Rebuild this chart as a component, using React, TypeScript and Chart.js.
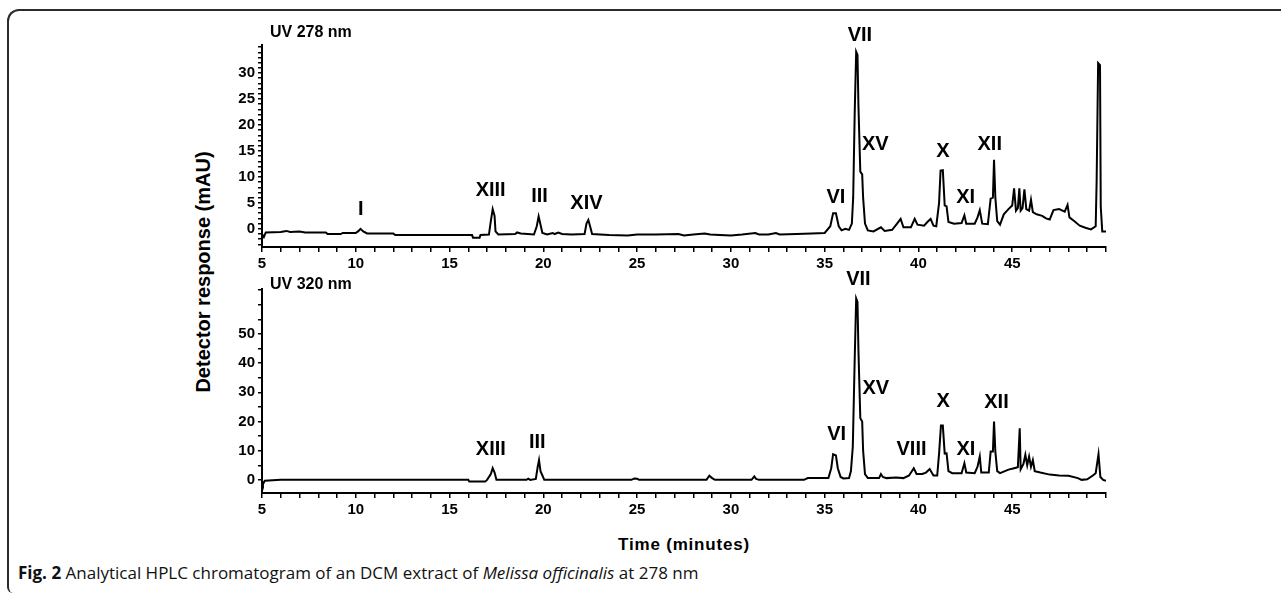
import React, { useEffect, useRef } from 'react';
import { Chart, registerables } from 'chart.js';

Chart.register(...registerables);

// ---- UV 278 nm trace (time in minutes, response in mAU) ----
const time278 = [
  5.0, 5.1, 5.2, 6.0, 6.3, 6.5, 7.0, 7.3, 8.4, 8.5, 9.2, 9.3, 10.0, 10.15, 10.25, 10.4, 10.6,
  12.0, 12.1, 13.0, 14.5, 16.2, 16.25, 16.6, 16.65, 17.1, 17.2, 17.3, 17.4, 17.45, 17.6,
  18.5, 18.6, 18.8, 19.5, 19.65, 19.75, 19.85, 19.95, 20.2, 20.5, 20.6, 20.8, 21.0, 21.5,
  22.2, 22.3, 22.4, 22.5, 22.6, 23.5, 24.5, 25.0, 26.0, 27.2, 27.5, 28.0, 28.6, 28.9, 29.4,
  30.0, 30.6, 31.3, 31.5, 32.0, 32.4, 32.6, 33.5, 34.3, 35.0, 35.3, 35.45, 35.6, 35.75, 35.9,
  36.1, 36.3, 36.45, 36.52, 36.6, 36.68, 36.75, 36.8, 36.9, 37.0, 37.05, 37.15, 37.3, 37.6,
  38.0, 38.2, 38.6, 38.9, 39.05, 39.2, 39.6, 39.8, 39.95, 40.3, 40.5, 40.65, 40.8, 40.95,
  41.1, 41.18, 41.3, 41.4, 41.5, 41.6, 41.9, 42.3, 42.45, 42.55, 43.0, 43.15, 43.27, 43.4,
  43.7, 43.85, 43.97, 44.03, 44.1, 44.2, 44.35, 44.55, 44.8, 45.0, 45.1, 45.2, 45.3, 45.38,
  45.45, 45.55, 45.65, 45.75, 45.9, 46.0, 46.1, 46.3, 46.6, 46.8, 47.0, 47.2, 47.5, 47.8,
  47.95, 48.05, 48.3, 48.6, 48.9, 49.2, 49.45, 49.5, 49.58, 49.68, 49.72, 49.8, 50.0,
];
const response278 = [
  -1.0, -1.6, -0.7, -0.6, -0.4, -0.6, -0.5, -0.7, -0.7, -1.0, -1.0, -0.8, -0.8, -0.4, 0.0, -0.5, -0.9,
  -0.9, -1.2, -1.2, -1.2, -1.2, -1.7, -1.7, -1.2, -1.1, 1.5, 3.8, 2.5, -0.5, -1.1,
  -1.0, -0.7, -0.9, -1.1, 0.5, 2.4, 0.8, -0.8, -1.1, -0.8, -1.0, -0.7, -1.0, -1.1,
  -1.0, 1.0, 1.7, 0.4, -1.0, -1.2, -1.3, -1.1, -1.1, -1.0, -1.3, -1.1, -0.9, -1.1, -1.2,
  -1.3, -1.1, -0.8, -1.1, -1.1, -0.8, -1.1, -1.0, -0.9, -0.8, 0.5, 3.0, 3.0, 0.5, -0.3,
  0.0, -0.2, 1.0, 6.0, 22.0, 34.1, 33.5, 23.8, 11.0, 10.5, 6.0, 1.0, -0.3, -0.5,
  0.3, -0.4, -0.2, 1.2, 1.9, 0.3, 0.3, 1.9, 0.8, 0.6, 1.4, 1.9, 0.6, 0.5,
  5.0, 11.2, 11.3, 4.5, 4.3, 1.3, 1.0, 1.1, 2.6, 1.0, 1.0, 2.2, 3.6, 1.0,
  0.9, 5.8, 6.0, 13.3, 6.0, 1.5, 0.8, 2.8, 3.8, 4.5, 7.8, 3.5, 4.0, 7.8,
  3.5, 4.0, 7.6, 3.8, 3.5, 5.6, 3.2, 2.8, 2.5, 2.0, 1.8, 3.6, 3.8, 3.3,
  4.6, 2.2, 1.5, 0.6, 0.2, -0.1, 0.5, 9.0, 31.9, 31.5, 4.3, -0.5, -0.5,
];

// ---- UV 320 nm trace ----
const time320 = [
  5.0, 5.05, 5.15, 6.0, 10.0, 15.0, 16.0, 16.05, 16.9, 17.0, 17.2, 17.3, 17.4, 17.5,
  19.1, 19.2, 19.3, 19.6, 19.7, 19.77, 19.85, 19.95, 20.05, 24.7, 24.85, 25.0, 25.1,
  28.7, 28.85, 29.0, 29.15, 31.1, 31.25, 31.35, 31.5, 33.9, 34.1, 34.5, 35.2, 35.35,
  35.45, 35.6, 35.7, 35.85, 36.0, 36.3, 36.4, 36.5, 36.6, 36.68, 36.75, 36.8, 36.9, 37.0,
  37.05, 37.15, 37.3, 37.9, 38.0, 38.1, 38.3, 38.8, 39.2, 39.5, 39.75, 39.9, 40.2, 40.4,
  40.6, 40.8, 41.0, 41.1, 41.2, 41.3, 41.4, 41.5, 41.6, 41.8, 42.3, 42.45, 42.55, 43.0,
  43.15, 43.27, 43.35, 43.75, 43.85, 43.97, 44.03, 44.1, 44.2, 44.35, 44.8, 45.1, 45.3,
  45.4, 45.45, 45.6, 45.7, 45.8, 45.9, 46.0, 46.1, 46.2, 46.5, 47.0, 47.5, 48.0, 48.5,
  48.7, 49.0, 49.3, 49.45, 49.6, 49.7, 49.85, 50.0,
];
const response320 = [
  -0.5, -1.5, -0.3, 0.0, 0.0, 0.0, 0.0, -0.6, -0.6, 0.0, 2.0, 4.0, 2.5, 0.0,
  0.0, 0.4, 0.0, 0.3, 4.5, 6.8, 3.0, 1.5, 0.0, 0.0, 0.5, 0.4, 0.0,
  0.0, 1.4, 0.6, 0.0, 0.0, 1.2, 0.3, 0.0, 0.0, 0.6, 0.6, 0.6, 4.0,
  8.8, 8.4, 4.0, 1.0, 0.5, 0.6, 3.0, 11.4, 41.0, 62.2, 61.0, 44.5, 21.1, 20.0,
  10.0, 2.0, 0.6, 0.6, 2.0, 1.0, 0.6, 0.8, 0.6, 1.5, 4.0, 2.0, 2.0, 2.5,
  3.7, 1.5, 1.5, 9.0, 18.6, 18.6, 9.0, 9.1, 3.0, 2.3, 2.3, 5.7, 2.5, 2.3,
  4.5, 8.0, 2.5, 2.5, 9.7, 9.7, 20.0, 9.7, 3.0, 2.3, 3.5, 4.0, 4.3,
  17.7, 3.6, 5.5, 8.6, 5.0, 8.0, 4.5, 6.8, 3.0, 2.5, 1.8, 1.5, 1.4, 0.6,
  0.0, 0.2, 1.5, 2.3, 8.8, 1.0, 0.0, -0.3,
];

// ---- peak labels (anchored in data units) ----
const peaks278 = ['I', 'XIII', 'III', 'XIV', 'VI', 'VII', 'XV', 'X', 'XI', 'XII'];
const peakTime278 = [10.26, 17.19, 19.8, 22.3, 35.6, 36.88, 37.7, 41.3, 42.52, 43.8];
const peakLevel278 = [3.65, 7.3, 6.2, 4.9, 6.1, 37.3, 16.2, 14.9, 6.0, 16.2];

const peaks320 = ['XIII', 'III', 'VI', 'VII', 'XV', 'VIII', 'X', 'XI', 'XII'];
const peakTime320 = [17.2, 19.68, 35.64, 36.8, 37.73, 39.63, 41.32, 42.53, 44.16];
const peakLevel320 = [10.5, 12.8, 15.4, 68.5, 31.4, 10.5, 26.8, 10.5, 26.4];

// ---- axes ----
const timeMin = 5;
const timeMax = 50;
const timeLabelStep = 5;
const timeLabelMax = 45;
const yRange278 = [-3.5, 35.4];
const yStep278 = 1;
const yLabelStep278 = 5;
const yLabelMax278 = 30;
const yRange320 = [-4.5, 65.4];
const yStep320 = 5;
const yLabelStep320 = 10;
const yLabelMax320 = 50;

const TICK_FONT = { family: '"Liberation Sans", Arial, sans-serif', size: 15, weight: 'bold' as const };
const LABEL_FONT = 'bold 20px "Liberation Sans", Arial, sans-serif';
const TITLE_FONT = 'bold 16px "Liberation Sans", Arial, sans-serif';

function makeLabelPlugin(title: string, titleDy: number, names: string[], lt: number[], lv: number[]) {
  return {
    id: 'peakLabels',
    afterDatasetsDraw(chart: any) {
      const { ctx, chartArea, scales } = chart;
      ctx.save();
      ctx.fillStyle = '#000';
      ctx.font = TITLE_FONT;
      ctx.textAlign = 'left';
      ctx.textBaseline = 'middle';
      ctx.fillText(title, chartArea.left + 8, chartArea.top + titleDy);
      ctx.font = LABEL_FONT;
      ctx.textAlign = 'center';
      names.forEach((n, i) => {
        ctx.fillText(n, scales.x.getPixelForValue(lt[i]), scales.y.getPixelForValue(lv[i]));
      });
      ctx.restore();
    },
  };
}

function buildConfig(
  times: number[], values: number[], yRange: number[], yStep: number, yLabelStep: number, yLabelMax: number,
  padTop: number, xHeight: number, plugin: any,
): any {
  return {
    type: 'line',
    data: {
      datasets: [{
        data: times.map((t, i) => ({ x: t, y: values[i] })),
        borderColor: '#000',
        borderWidth: 2,
        pointRadius: 0,
        tension: 0,
        fill: false,
      }],
    },
    options: {
      animation: false,
      responsive: false,
      maintainAspectRatio: false,
      events: [],
      layout: { padding: { left: 0, right: 14, top: padTop, bottom: 0 } },
      plugins: { legend: { display: false }, tooltip: { enabled: false }, title: { display: false } },
      scales: {
        x: {
          type: 'linear',
          min: timeMin,
          max: timeMax,
          afterFit: (s: any) => { s.height = xHeight; },
          ticks: {
            stepSize: 1,
            autoSkip: false,
            maxRotation: 0,
            padding: 3,
            color: '#000',
            font: TICK_FONT,
            callback: (v: number) => (v % timeLabelStep === 0 && v <= timeLabelMax ? String(v) : ''),
          },
          grid: { drawOnChartArea: false, drawTicks: true, tickLength: 5, color: '#000', lineWidth: 1.5 },
          border: { display: true, color: '#000', width: 2 },
        },
        y: {
          type: 'linear',
          min: yRange[0],
          max: yRange[1],
          afterFit: (s: any) => { s.width = 42; },
          ticks: {
            stepSize: yStep,
            includeBounds: false,
            autoSkip: false,
            padding: 3,
            color: '#000',
            font: TICK_FONT,
            callback: (v: number) => (Math.abs(v % yLabelStep) < 1e-9 && v <= yLabelMax ? String(v) : ''),
          },
          grid: { drawOnChartArea: false, drawTicks: true, tickLength: 4, color: '#000', lineWidth: 1.5 },
          border: { display: true, color: '#000', width: 2 },
        },
      },
    },
    plugins: [plugin],
  };
}

export default function App() {
  const topRef = useRef<HTMLCanvasElement>(null);
  const botRef = useRef<HTMLCanvasElement>(null);

  useEffect(() => {
    const c1 = new Chart(topRef.current!, buildConfig(
      time278, response278, yRange278, yStep278, yLabelStep278, yLabelMax278, 25, 28,
      makeLabelPlugin('UV 278 nm', -12, peaks278, peakTime278, peakLevel278),
    ));
    const c2 = new Chart(botRef.current!, buildConfig(
      time320, response320, yRange320, yStep320, yLabelStep320, yLabelMax320, 19, 27,
      makeLabelPlugin('UV 320 nm', -4, peaks320, peakTime320, peakLevel320),
    ));
    return () => { c1.destroy(); c2.destroy(); };
  }, []);

  return (
    <div style={{ position: 'absolute', left: 0, top: 0, width: 1281, height: 597, overflow: 'hidden', background: '#fff' }}>
      <div style={{
        position: 'absolute', left: 7, top: 9, width: 1300, height: 584, boxSizing: 'border-box',
        borderTop: '2px solid #2b2b2b', borderLeft: '2px solid #2b2b2b',
        borderTopLeftRadius: 12, borderBottomLeftRadius: 6,
      }} />
      <canvas ref={topRef} width={900} height={255}
        style={{ position: 'absolute', left: 220, top: 20, width: 900, height: 255 }} />
      <canvas ref={botRef} width={900} height={250}
        style={{ position: 'absolute', left: 220, top: 270, width: 900, height: 250 }} />
      <div style={{
        position: 'absolute', left: 203, top: 272, transform: 'translate(-50%, -50%) rotate(-90deg)',
        whiteSpace: 'nowrap', font: 'bold 20px "Liberation Sans", Arial, sans-serif', color: '#000',
      }}>Detector response (mAU)</div>
      <div style={{
        position: 'absolute', left: 684, top: 545, transform: 'translate(-50%, -50%)',
        whiteSpace: 'nowrap', font: 'bold 17px "Liberation Sans", Arial, sans-serif', color: '#000', letterSpacing: '0.8px',
      }}>Time (minutes)</div>
      <div style={{
        position: 'absolute', left: 18, top: 572, transform: 'translate(0, -50%)',
        whiteSpace: 'nowrap', font: '17px "Open Sans", "Noto Sans", sans-serif', color: '#111',
      }}>
        <b>Fig. 2</b> Analytical HPLC chromatogram of an DCM extract of <i>Melissa officinalis</i> at 278 nm
      </div>
    </div>
  );
}
